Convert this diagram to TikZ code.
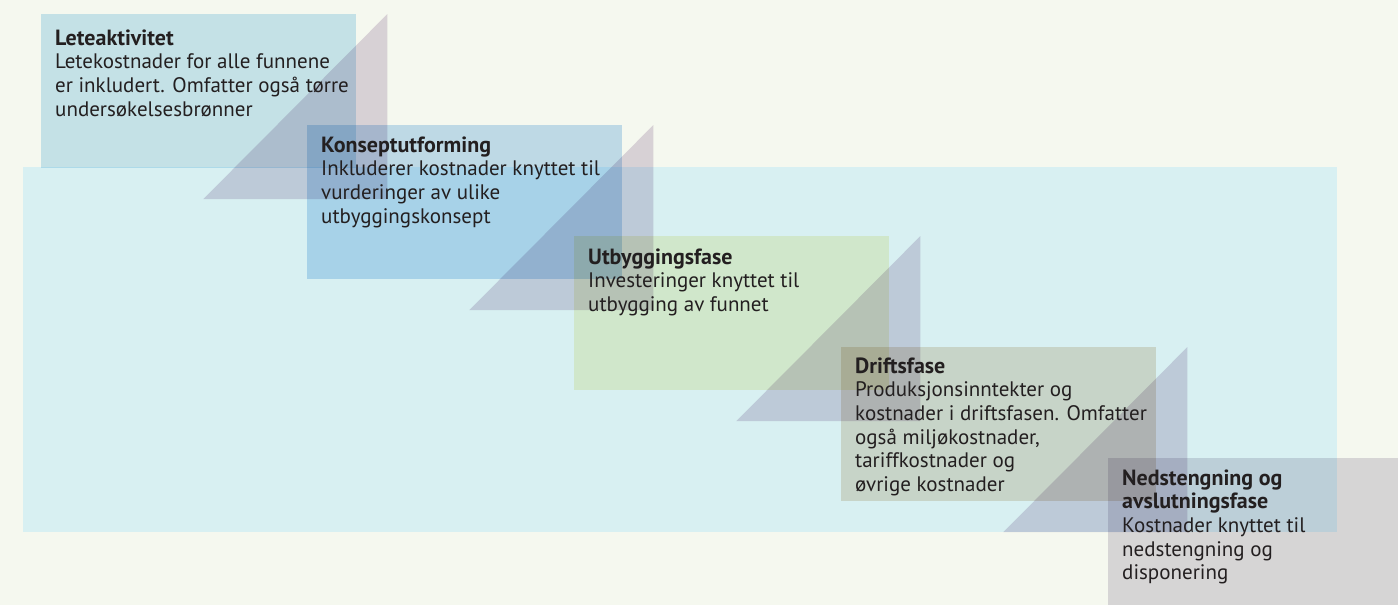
\documentclass[tikz,border=0pt]{standalone}
\usepackage{fontspec}
\setmainfont{PT Sans}
\definecolor{bgc}{RGB}{245,248,239}
\definecolor{bandc}{RGB}{216,240,242}
\definecolor{c1}{RGB}{205,232,246}
\definecolor{c2}{RGB}{198,224,245}
\definecolor{c3}{RGB}{246,246,214}
\definecolor{c4}{RGB}{236,226,211}
\definecolor{c5}{RGB}{223,220,228}
\definecolor{trc}{RGB}{224,215,228}
\definecolor{txc}{RGB}{35,31,32}
\newcommand{\ttl}[1]{{\fontsize{22pt}{23.7pt}\selectfont\bfseries #1}}
\begin{document}
\begin{tikzpicture}[x=1pt,y=-1pt,
  box/.style={draw=none,anchor=north west,inner sep=0pt,minimum width=315pt,minimum height=154pt},
  tri/.style={fill=trc},
  txt/.style={anchor=base west,inner sep=0pt,text=txc,font=\fontsize{21pt}{23.7pt}\selectfont}]
\useasboundingbox (0,0) rectangle (1398,605);
\clip (0,0) rectangle (1398,605);
\fill[bgc] (0,0) rectangle (1398,605);
\node[box,fill=bandc,minimum width=1314pt,minimum height=365pt] (band) at (23,167) {};
\begin{scope}[blend mode=multiply]
\node[box,fill=c1] (b1) at (41,14) {};
\node[box,fill=c2] (b2) at (307,125) {};
\node[box,fill=c3] (b3) at (574,236) {};
\node[box,fill=c4] (b4) at (841,347) {};
\node[box,fill=c5,minimum height=160pt] (b5) at (1108,458) {};
\foreach \b in {b1,b2,b3,b4}{
  \fill[tri] ([xshift=31pt]\b.north east) -- ++(0,185) -- ++(-184,0) -- cycle;
}
\end{scope}
\newcommand{\phase}[4]{%
  \node[txt] (#1) at ([xshift=14pt,yshift=-#3pt]#2.north west)
    {\parbox[t]{320pt}{\raggedright #4}};}
\phase{t1}{b1}{31}{\ttl{Leteaktivitet}\\Letekostnader for alle funnene\\er inkludert. Omfatter også tørre\\undersøkelsesbrønner}
\phase{t2}{b2}{27}{\ttl{Konseptutforming}\\Inkluderer kostnader knyttet til\\vurderinger av ulike\\utbyggingskonsept}
\phase{t3}{b3}{28}{\ttl{Utbyggingsfase}\\Investeringer knyttet til\\utbygging av funnet}
\phase{t4}{b4}{26}{\ttl{Driftsfase}\\Produksjonsinntekter og\\kostnader i driftsfasen. Omfatter\\også miljøkostnader,\\tariffkostnader og\\øvrige kostnader}
\phase{t5}{b5}{27}{\ttl{Nedstengning og}\\\ttl{avslutningsfase}\\Kostnader knyttet til\\nedstengning og\\disponering}
\end{tikzpicture}
\end{document}
